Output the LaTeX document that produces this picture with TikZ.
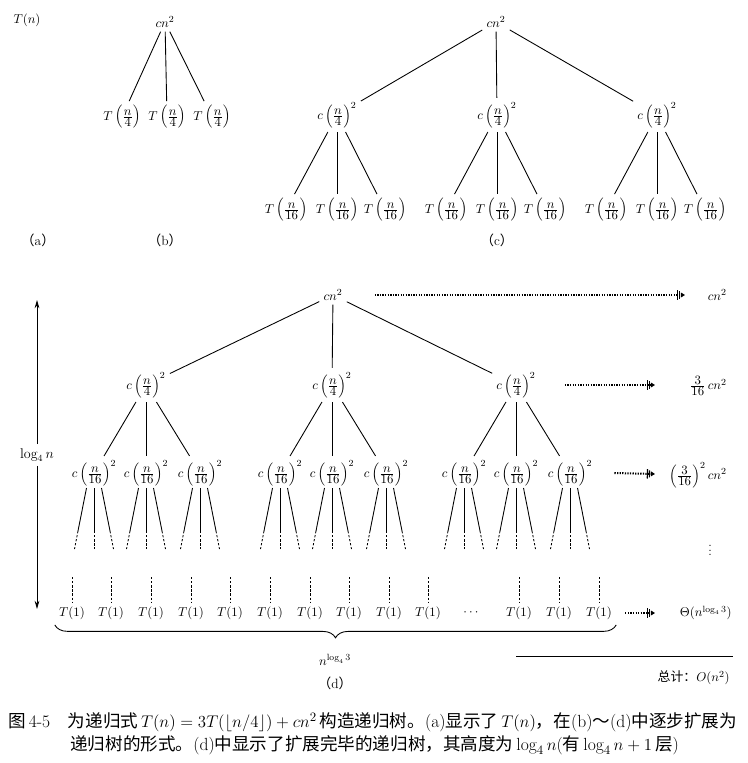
\documentclass[tikz,border=0pt]{standalone}
\usepackage{amsmath}
\usepackage{fontspec}
\newfontfamily\cjk{Noto Sans CJK SC}
\usetikzlibrary{calc,arrows.meta,decorations.pathreplacing}
\newcommand{\lvfrac}[2]{\frac{\textstyle #1}{\textstyle #2}}
\newcommand{\sublab}[1]{{\cjk （}#1{\cjk ）}}

\begin{document}
\begin{tikzpicture}[x=0.03cm, y=-0.03cm, line width=0.75pt,
  every node/.style={font=\fontsize{11}{13}\selectfont},
  sub label/.style={font=\fontsize{11.5}{13}\selectfont},
  sum arrow/.style={line width=1.7pt, dash pattern=on 1.1pt off 1.1pt,
    -{Bar[width=8pt,line width=1pt,sep=0.8pt]Bar[width=6pt,line width=0.9pt,sep=0.8pt]Triangle[length=3.5pt,width=4pt]}},
  fan dashed/.style={line width=0.7pt, dash pattern=on 2pt off 1.5pt},
  caption text/.style={anchor=west, font=\fontsize{15}{18}\selectfont}]
  \useasboundingbox (0,0) rectangle (747,763);

  % (a)
  \node (a0) at (27,20) {$T(n)$};
  \node[sub label] (la) at (38,240) {\sublab{a}};

  % (b)
  \node (b0) at (165,22) {$cn^2$};
  \foreach \i/\x in {1/122,2/167,3/212} {
    \node (b\i) at (\x,117) {$T\left(\lvfrac{n}{4}\right)$};
    \draw (b0) -- (b\i);
  }
  \node[sub label] (lb) at (165,240) {\sublab{b}};

  % (c)
  \node (c0) at (496,22) {$cn^2$};
  \foreach \i/\x in {1/337,2/497,3/657} {
    \node (c\i) at (\x,115) {$c\left(\lvfrac{n}{4}\right)^2$};
    \draw (c0) -- (c\i);
    \foreach \j/\dx in {1/-51,2/0,3/48} {
      \node (c\i\j) at (\x+\dx,210) {$T\left(\lvfrac{n}{16}\right)$};
      \draw (c\i) -- (c\i\j);
    }
  }
  \node[sub label] (lc) at (497,240) {\sublab{c}};

  % (d)
  \node (d0) at (333,295) {$cn^2$};
  \foreach \i/\x in {1/146,2/332,3/516} {
    \node (d\i) at (\x,385) {$c\left(\lvfrac{n}{4}\right)^2$};
    \draw (d0) -- (d\i);
    \foreach \j/\dx in {1/-52,2/0,3/54} {
      \node (d\i\j) at (\x+\dx,473) {$c\left(\lvfrac{n}{16}\right)^2$};
      \draw (d\i) -- (d\i\j);
      \foreach \k in {-1,0,1} {
        \coordinate (m\i\j\k) at ($(d\i\j)+(\k*16,58)$);
        \draw ($(d\i\j)+(\k*7.5,15)$) -- (m\i\j\k);
        \draw[fan dashed] (m\i\j\k) -- ++(\k*3.5,18);
      }
    }
  }
  \foreach \i/\x in {1/72,2/111,3/151,4/191,5/230,6/270,7/310,8/349,9/389,10/428,11/519,12/559,13/599} {
    \node (l\i) at (\x,613) {$T(1)$};
    \coordinate (t\i) at (\x,577);
    \draw[fan dashed] (t\i) -- (l\i);
  }
  \node (ldots) at (472,613) {$\cdots$};
  \draw[decorate, decoration={brace, mirror, amplitude=11pt}]
    ([yshift=-1pt]l1.south west) -- ([yshift=-1pt]l13.south east);
  \node (nlog) at (335,660) {$n^{\log_4 3}$};
  \node[sub label] (ld) at (335,683) {\sublab{d}};

  % per-level sums
  \node[anchor=east] (r0) at (731,295) {$cn^2$};
  \node[anchor=east] (r1) at (731,386) {$\lvfrac{3}{16}\,cn^2$};
  \node[anchor=east] (r2) at (731,475) {$\left(\lvfrac{3}{16}\right)^2cn^2$};
  \node (r3) at (710,547) {$\vdots$};
  \node[anchor=east] (r4) at (736,613) {$\Theta(n^{\log_4 3})$};
  \coordinate (e0) at (685,295);
  \coordinate (e1) at (655,385);
  \coordinate (e2) at (655,474);
  \coordinate (e4) at (655,613);
  \draw[sum arrow] ($(d0.east)+(28,0)$) -- (e0);
  \draw[sum arrow] ($(d3.east)+(25,0)$) -- (e1);
  \draw[sum arrow] ($(d33.east)+(18,0)$) -- (e2);
  \draw[sum arrow] ($(l13.east)+(9,0)$) -- (e4);
  \draw (516,656) -- (733,656);
  \node[anchor=east] (total) at (734,678) {{\cjk 总计：}$O(n^2)$};

  % height
  \node[fill=white, font=\fontsize{12}{14}\selectfont] (h) at (37,455) {$\log_4 n$};
  \coordinate (htop) at (37,300);
  \coordinate (hbot) at (37,609);
  \draw[-{Stealth[length=7pt,width=4pt]}] (h) -- (htop);
  \draw[-{Stealth[length=7pt,width=4pt]}] (h) -- (hbot);

  % caption
  \node[caption text] (cap1) at (4,722) {{\cjk 图}\,4-5\quad{\cjk 为递归式}\,$T(n)=3T(\lfloor n/4\rfloor)+cn^2$\,{\cjk 构造递归树。}(a){\cjk 显示了}\,$T(n)${\cjk ，在}(b){\cjk ～}(d){\cjk 中逐步扩展为}};
  \node[caption text] (cap2) at (66,745) {{\cjk 递归树的形式。}(d){\cjk 中显示了扩展完毕的递归树，其高度为}\,$\log_4 n$({\cjk 有}\,$\log_4 n+1$\,{\cjk 层})};
\end{tikzpicture}
\end{document}
